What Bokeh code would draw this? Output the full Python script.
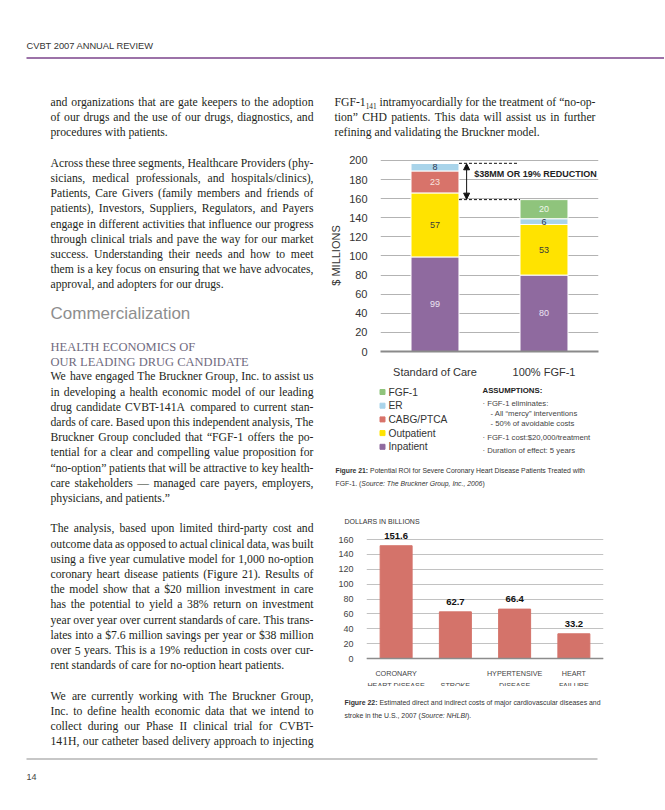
from bokeh.plotting import figure
from bokeh.models import (Range1d, FactorRange, FixedTicker, Span, Arrow, NormalHead,
                          ColumnDataSource)
from bokeh.layouts import column, row
from bokeh.embed import file_html
from bokeh.resources import INLINE
from bokeh.core.properties import value

# ---------------- data: Figure 21 (stacked bars, $ millions) ----------------
cats1 = ["Standard of Care", "100% FGF-1"]
series1 = ["Inpatient", "Outpatient", "CABG/PTCA", "ER", "FGF-1"]
inpatient = [99, 80]
outpatient = [67, 53]
cabg_ptca = [23, 0]
er = [8, 6]
fgf1 = [0, 20]
# segment labels as printed in the original
labels_inpatient = ["99", "80"]
labels_outpatient = ["57", "53"]
labels_cabg_ptca = ["23", ""]
labels_er = ["8", "6"]
labels_fgf1 = ["", "20"]
colors1 = ["#8f6a9f", "#ffe300", "#d8736a", "#a9d4ea", "#8fc47c"]
label_colors1 = ["#ece4f2", "#3a3a3a", "#f7e3df", "#2d3a52", "#f0f7ec"]
y1_ticks = [0, 20, 40, 60, 80, 100, 120, 140, 160, 180, 200]

# ---------------- data: Figure 22 (bars, $ billions) ----------------
cats2 = ["CORONARY HEART DISEASE", "STROKE", "HYPERTENSIVE DISEASE", "HEART FAILURE"]
cats2_line1 = ["CORONARY", "", "HYPERTENSIVE", "HEART"]
cats2_line2 = ["HEART DISEASE", "STROKE", "DISEASE", "FAILURE"]
costs2 = [151.6, 62.7, 66.4, 33.2]
y2_ticks = [0, 20, 40, 60, 80, 100, 120, 140, 160]

# ---------------- page text ----------------
para1 = ["and organizations that are gate keepers to the adoption",
         "of our drugs and the use of our drugs, diagnostics, and",
         "procedures with patients."]
para2 = ["Across these three segments, Healthcare Providers (phy-",
         "sicians, medical professionals, and hospitals/clinics),",
         "Patients, Care Givers (family members and friends of",
         "patients), Investors, Suppliers, Regulators, and Payers",
         "engage in different activities that influence our progress",
         "through clinical trials and pave the way for our market",
         "success. Understanding their needs and how to meet",
         "them is a key focus on ensuring that we have advocates,",
         "approval, and adopters for our drugs."]
para3 = ["We have engaged The Bruckner Group, Inc. to assist us",
         "in developing a health economic model of our leading",
         "drug candidate CVBT-141A compared to current stan-",
         "dards of care. Based upon this independent analysis, The",
         "Bruckner Group concluded that \u201cFGF-1 offers the po-",
         "tential for a clear and compelling value proposition for",
         "\u201cno-option\u201d patients that will be attractive to key health-",
         "care stakeholders \u2014 managed care payers, employers,",
         "physicians, and patients.\u201d"]
para4 = ["The analysis, based upon limited third-party cost and",
         "outcome data as opposed to actual clinical data, was built",
         "using a five year cumulative model for 1,000 no-option",
         "coronary heart disease patients (Figure 21). Results of",
         "the model show that a $20 million investment in care",
         "has the potential to yield a 38% return on investment",
         "year over year over current standards of care.  This trans-",
         "lates into a $7.6 million savings per year or $38 million",
         "over 5 years. This is a 19% reduction in costs over cur-",
         "rent standards of care for no-option heart patients."]
para5 = ["We are currently working with The Bruckner Group,",
         "Inc. to define health economic data that we intend to",
         "collect during our Phase II clinical trial for CVBT-",
         "141H, our catheter based delivery approach to injecting"]
para_right = ["FGF-1{141} intramyocardially for the treatment of \u201cno-op-",
              "tion\u201d CHD patients. This data will assist us in further",
              "refining and validating the Bruckner model."]

SERIF = "Liberation Serif"
SANS = "Liberation Sans"
INK = "#231f20"
SUBF = 0.62

TIMES = {' ': 250, '!': 333, '"': 408, '$': 500, '%': 833, '&': 778, "'": 180, '(': 333, ')': 333,
         ',': 250, '-': 333, '.': 250, '/': 278, ':': 278, ';': 278, '?': 444,
         'A': 722, 'B': 667, 'C': 667, 'D': 722, 'E': 611, 'F': 556, 'G': 722, 'H': 722, 'I': 333,
         'J': 389, 'K': 722, 'L': 611, 'M': 889, 'N': 722, 'O': 722, 'P': 556, 'Q': 722, 'R': 667,
         'S': 556, 'T': 611, 'U': 722, 'V': 722, 'W': 944, 'X': 722, 'Y': 722, 'Z': 611,
         'a': 444, 'b': 500, 'c': 444, 'd': 500, 'e': 444, 'f': 333, 'g': 500, 'h': 500, 'i': 278,
         'j': 278, 'k': 500, 'l': 278, 'm': 778, 'n': 500, 'o': 500, 'p': 500, 'q': 500, 'r': 333,
         's': 389, 't': 278, 'u': 500, 'v': 500, 'w': 722, 'x': 500, 'y': 500, 'z': 444,
         '\u201c': 444, '\u201d': 444, '\u2014': 1000, '\u2019': 333}
for _d in "0123456789":
    TIMES[_d] = 500

ARIAL = {' ': 278, '(': 333, ')': 333, ',': 278, '-': 333, '.': 278, '/': 278, ':': 278, '$': 556,
         '%': 889, '\u00b7': 278, '\u201c': 333, '\u201d': 333,
         'A': 667, 'B': 667, 'C': 722, 'D': 722, 'E': 667, 'F': 611, 'G': 778, 'H': 722, 'I': 278,
         'J': 500, 'K': 667, 'L': 556, 'M': 833, 'N': 722, 'O': 778, 'P': 667, 'Q': 778, 'R': 722,
         'S': 667, 'T': 611, 'U': 722, 'V': 667, 'W': 944, 'X': 667, 'Y': 667, 'Z': 611,
         'a': 556, 'b': 556, 'c': 500, 'd': 556, 'e': 556, 'f': 278, 'g': 556, 'h': 556, 'i': 222,
         'j': 222, 'k': 500, 'l': 222, 'm': 833, 'n': 556, 'o': 556, 'p': 556, 'q': 556, 'r': 333,
         's': 500, 't': 278, 'u': 556, 'v': 500, 'w': 722, 'x': 500, 'y': 500, 'z': 500}
for _d in "0123456789":
    ARIAL[_d] = 556
ARIAL_B = dict(ARIAL)
ARIAL_B.update({'i': 278, 'g': 611, 'u': 611, 'r': 389, ':': 333})


def tw(s, fs, table=TIMES):
    return sum(table.get(c, 500) for c in s) * fs / 1000.0


def word_w(wd, fs):
    if "{" in wd:
        base, sub = wd.rstrip("}").split("{")
        return tw(base, fs) + tw(sub, fs * SUBF)
    return tw(wd, fs)


def no_align(p):
    try:
        p.frame_align = False
    except Exception:
        pass
    return p


def text_fig(x0, y0, w, h):
    p = figure(width=w, height=h, x_range=Range1d(x0, x0 + w), y_range=Range1d(y0 + h, y0),
               min_border=0, toolbar_location=None, x_axis_type=None, y_axis_type=None,
               output_backend="svg")
    p.outline_line_color = None
    p.background_fill_color = "white"
    p.border_fill_color = "white"
    return no_align(p)


def put(p, x, y, t, size, font=SANS, color="#333333", style="normal", align="left",
        baseline="middle"):
    p.text(x=[x], y=[y], text=[t], text_font=value(font), text_font_size=f"{size:.2f}px",
           text_color=color, text_font_style=style, text_align=align, text_baseline=baseline)


def parts_width(parts, size):
    return sum(tw(t, size, ARIAL_B if s == "bold" else ARIAL) for t, s in parts)


def pieces(p, x, y, parts, size, color="#333333"):
    for txt, style in parts:
        table = ARIAL_B if style == "bold" else ARIAL
        lead = len(txt) - len(txt.lstrip(" "))
        put(p, x + tw(" " * lead, size, table), y, txt.strip(" "), size, SANS, color, style)
        x += tw(txt, size, table)


def new_store():
    return {"L": [], "R": [], "S": []}


def emit(store, lines, x0, W, y0, s, fs, last_ragged=True):
    for i, line in enumerate(lines):
        y = y0 + i * s
        words = line.split()
        widths = [word_w(w, fs) for w in words]
        ragged = (last_ragged and i == len(lines) - 1) or len(words) < 2
        gap = 0.25 * fs if ragged else (W - sum(widths)) / (len(words) - 1)
        x = x0
        for j, (wd, ww) in enumerate(zip(words, widths)):
            if not ragged and j == len(words) - 1:
                store["R"].append((x0 + W, y, wd))
            elif "{" in wd:
                base, sub = wd.rstrip("}").split("{")
                store["L"].append((x, y, base))
                store["S"].append((x + tw(base, fs), y + 0.3 * fs, sub))
            else:
                store["L"].append((x, y, wd))
            x += ww + gap


def draw_store(p, store, fs):
    for key, align, size in (("L", "left", fs), ("R", "right", fs), ("S", "left", fs * SUBF)):
        items = store[key]
        if not items:
            continue
        xs, ys, ts = zip(*items)
        p.text(x=list(xs), y=list(ys), text=list(ts), text_font=value(SERIF),
               text_font_size=f"{size:.2f}px", text_color=INK, text_align=align,
               text_baseline="middle")


# ---------------- geometry of the page (layout origin = page origin) ----------------
PAGE_W = 664
LX0, LW = 50, 263      # left text column
RX0, RW = 334, 261     # right text column
S = 15.2               # line pitch

blocks = [(para1, LW, True), (para2, LW, True), (para3, LW, True), (para4, LW, True),
          (para5, LW, False), (para_right, RW, True)]
cands = []
for lines, W, lr in blocks:
    for i, line in enumerate(lines):
        if lr and i == len(lines) - 1:
            continue
        words = line.split()
        ws1 = sum(word_w(w, 1.0) for w in words)
        cands.append(W / (ws1 + (len(words) - 1) * 0.2))
FS = min(12.0, min(cands))

# ---------------- header ----------------
header = text_fig(0, 0, PAGE_W, 62)
put(header, 26, 45, "CVBT 2007 ANNUAL REVIEW", 9.3, SANS, "#333333")
header.segment(x0=[26], y0=[57.5], x1=[PAGE_W], y1=[57.5], line_color="#9c72a8", line_width=2)

# ---------------- left column ----------------
left = text_fig(0, 62, 326, 690)
st = new_store()
p1_y = 102
p2_y = p1_y + 4 * S
comm_y = 313
sub_y = 346
p3_y = sub_y + 2 * S
p4_y = p3_y + 10 * S
p5_y = p4_y + 11 * S
emit(st, para1, LX0, LW, p1_y, S, FS)
emit(st, para2, LX0, LW, p2_y, S, FS)
emit(st, para3, LX0, LW, p3_y, S, FS)
emit(st, para4, LX0, LW, p4_y, S, FS)
emit(st, para5, LX0, LW, p5_y, S, FS, last_ragged=False)
draw_store(left, st, FS)
put(left, LX0, comm_y, "Commercialization", 17, SANS, "#8e8e8e")
put(left, LX0, sub_y, "HEALTH ECONOMICS OF", 12.5, SERIF, "#706b80")
put(left, LX0, sub_y + S, "OUR LEADING DRUG CANDIDATE", 12.5, SERIF, "#706b80")

# ---------------- right column: top text ----------------
RCX, RCW = 326, PAGE_W - 326
rt = text_fig(RCX, 62, RCW, 86)
st = new_store()
emit(st, para_right, RX0, RW, 102, S, FS)
draw_store(rt, st, FS)

# ---------------- Figure 21 chart ----------------
BW1 = 0.44
stack_vals = [inpatient, outpatient, cabg_ptca, er, fgf1]
stack_labels = [labels_inpatient, labels_outpatient, labels_cabg_ptca, labels_er, labels_fgf1]
src1 = ColumnDataSource(dict(cat=cats1, **{n: v for n, v in zip(series1, stack_vals)}))

ch1 = figure(x_range=FactorRange(*cats1), y_range=Range1d(0, 201), width=RCW, height=232,
             toolbar_location=None, output_backend="svg", min_border_left=380 - RCX,
             min_border_right=PAGE_W - 598, min_border_top=11, min_border_bottom=26)
no_align(ch1)
ch1.outline_line_color = None
ch1.vbar_stack(series1, x="cat", width=BW1, color=colors1, line_color="white", line_width=1,
               source=src1)
ch1.xgrid.visible = False
ch1.ygrid.ticker = FixedTicker(ticks=y1_ticks)
ch1.ygrid.grid_line_color = "#b3b3b3"
ch1.yaxis.ticker = FixedTicker(ticks=y1_ticks)
for ax in (ch1.xaxis, ch1.yaxis):
    ax.major_tick_line_color = None
    ax.minor_tick_line_color = None
    ax.major_label_text_font = SANS
    ax.major_label_text_font_size = "11px"
    ax.major_label_text_color = "#333333"
ch1.yaxis.axis_line_color = None
ch1.yaxis.major_label_standoff = 7
ch1.yaxis.axis_label = "$ MILLIONS"
ch1.yaxis.axis_label_text_font = SANS
ch1.yaxis.axis_label_text_font_size = "11px"
ch1.yaxis.axis_label_text_font_style = "normal"
ch1.yaxis.axis_label_text_color = "#333333"
ch1.yaxis.axis_label_standoff = 4
ch1.xaxis.axis_line_color = "#8a8a8a"
ch1.xaxis.axis_line_width = 2
ch1.xaxis.major_label_standoff = 8

base = [0] * len(cats1)
lx, ly, lt, lc = [], [], [], []
for vals, labs, col in zip(stack_vals, stack_labels, label_colors1):
    for i, c in enumerate(cats1):
        if labs[i]:
            lx.append(c)
            ly.append(base[i] + vals[i] / 2)
            lt.append(labs[i])
            lc.append(col)
        base[i] += vals[i]
ch1.text(x="x", y="y", text="t", text_color="c",
         source=ColumnDataSource(dict(x=lx, y=ly, t=lt, c=lc)),
         text_font=value(SANS), text_font_size="9px", text_align="center",
         text_baseline="middle")

tot_soc, tot_fgf = base
diff = tot_soc - tot_fgf
pct = round(100 * diff / tot_soc)
x_right_soc = 0.5 + BW1 / 2
x_left_fgf = 1.5 - BW1 / 2
ch1.segment(x0=[x_right_soc, x_right_soc], y0=[tot_soc, tot_fgf],
            x1=[x_left_fgf - 0.02, x_left_fgf], y1=[tot_soc, tot_fgf],
            line_color="#111111", line_width=1, line_dash="3 2")
ax_x = x_right_soc + 0.07
ch1.add_layout(Arrow(start=NormalHead(size=6, fill_color="#111111", line_color="#111111"),
                     end=NormalHead(size=6, fill_color="#111111", line_color="#111111"),
                     x_start=ax_x, y_start=tot_fgf + 0.5, x_end=ax_x, y_end=tot_soc - 0.5,
                     line_color="#111111", line_width=1))
ch1.text(x=[x_right_soc + 0.14], y=[tot_soc - 11.5], text=[f"${diff}MM OR {pct}% REDUCTION"],
         text_font=value(SANS), text_font_size="9px", text_font_style="bold",
         text_color="#222222", text_align="left", text_baseline="middle")

# ---------------- legend / assumptions / caption 21 ----------------
leg = text_fig(RCX, 380, RCW, 147)
leg_names = list(reversed(series1))
leg_cols = list(reversed(colors1))
leg_ys = [391.5 + 13.7 * i for i in range(len(leg_names))]
leg.scatter(x=[382] * len(leg_names), y=leg_ys, marker="square", size=5, color=leg_cols)
leg.text(x=[388] * len(leg_names), y=leg_ys, text=leg_names, text_font=value(SANS),
         text_font_size="10.2px", text_color="#333333", text_baseline="middle")
put(leg, 482, 389.5, "ASSUMPTIONS:", 7.8, SANS, "#222222", "bold")
put(leg, 482, 403, "\u00b7 FGF-1 eliminates:", 7.7, SANS, "#444444")
put(leg, 490, 413, "- All \u201cmercy\u201d interventions", 7.7, SANS, "#444444")
put(leg, 490, 423, "- 50% of avoidable costs", 7.7, SANS, "#444444")
put(leg, 482, 436.5, "\u00b7 FGF-1 cost:$20,000/treatment", 7.7, SANS, "#444444")
put(leg, 482, 450, "\u00b7 Duration of effect: 5 years", 7.7, SANS, "#444444")
cap21_1 = [("Figure 21:", "bold"),
           (" Potential ROI for Severe Coronary Heart Disease Patients Treated with", "normal")]
cap21_2 = [("FGF-1. (", "normal"), ("Source: The Bruckner Group, Inc., 2006", "italic"),
           (")", "normal")]
fs21 = min(8.0, 250 / parts_width(cap21_1, 1.0))
pieces(leg, 335, 470, cap21_1, fs21)
pieces(leg, 335, 482.5, cap21_2, fs21)
put(leg, 344, 521, "DOLLARS IN BILLIONS", 7, SANS, "#333333")

# ---------------- Figure 22 chart ----------------
PX2 = 119 / 160.0
Y2_MIN = -28 / PX2
Y2_TOP = Y2_MIN + 159 / PX2
ch2 = figure(x_range=FactorRange(*cats2), y_range=Range1d(Y2_MIN, Y2_TOP), width=RCW,
             height=159, toolbar_location=None, output_backend="svg", x_axis_location=None,
             min_border_left=366 - RCX, min_border_right=PAGE_W - 603, min_border_top=0,
             min_border_bottom=0)
no_align(ch2)
ch2.outline_line_color = None
ch2.xgrid.visible = False
ch2.ygrid.ticker = FixedTicker(ticks=y2_ticks)
ch2.ygrid.grid_line_color = "#c2c2c2"
ch2.yaxis.ticker = FixedTicker(ticks=y2_ticks)
ch2.yaxis.axis_line_color = None
ch2.yaxis.major_tick_line_color = None
ch2.yaxis.minor_tick_line_color = None
ch2.yaxis.major_label_text_font = SANS
ch2.yaxis.major_label_text_font_size = "9px"
ch2.yaxis.major_label_text_color = "#444444"
ch2.yaxis.major_label_standoff = 7
ch2.vbar(x=cats2, top=costs2, width=0.54, color="#d4736a")
ch2.add_layout(Span(location=0, dimension="width", line_color="#8c8c8c", line_width=1.5))
ch2.text(x=cats2, y=costs2, text=[f"{v:.1f}" for v in costs2], text_font=value(SANS),
         text_font_size="9.5px", text_font_style="bold", text_color="#111111",
         text_align="center", text_baseline="middle", y_offset=-10)
ch2.text(x=cats2, y=[0] * len(cats2), text=cats2_line1, text_font=value(SANS),
         text_font_size="7.2px", text_color="#444444", text_align="center",
         text_baseline="middle", y_offset=15)
ch2.text(x=cats2, y=[0] * len(cats2), text=cats2_line2, text_font=value(SANS),
         text_font_size="7.2px", text_color="#444444", text_align="center",
         text_baseline="middle", y_offset=27)

# ---------------- caption 22 ----------------
cap = text_fig(RCX, 686, RCW, 66)
cap22_1 = [("Figure 22:", "bold"),
           (" Estimated direct and indirect costs of major cardiovascular diseases and",
            "normal")]
cap22_2 = [("stroke in the U.S., 2007 (", "normal"), ("Source: NHLBI", "italic"),
           (").", "normal")]
fs22 = min(8.0, 256 / parts_width(cap22_1, 1.0))
pieces(cap, 344, 701.5, cap22_1, fs22)
pieces(cap, 344, 714.5, cap22_2, fs22)

# ---------------- footer ----------------
footer = text_fig(0, 752, PAGE_W, 54)
footer.segment(x0=[26], y0=[758.5], x1=[597], y1=[758.5], line_color="#b5b5b5", line_width=1.5)
put(footer, 26, 776, "14", 9, SANS, "#444444")

page = column(header, row(left, column(rt, ch1, leg, ch2, cap)), footer)
open("out.html", "w").write(file_html(page, INLINE))
